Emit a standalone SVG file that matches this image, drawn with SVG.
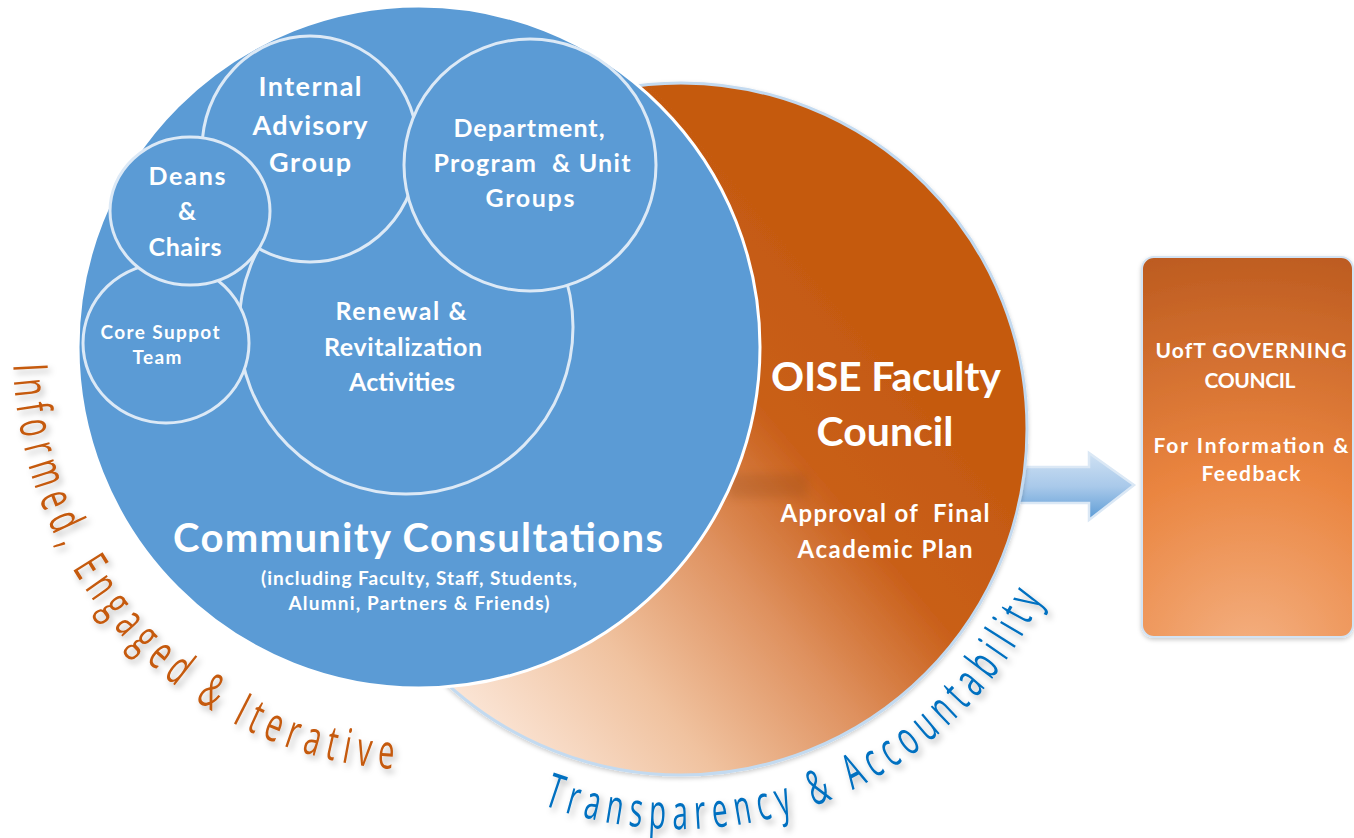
<svg xmlns="http://www.w3.org/2000/svg" width="1354" height="838" viewBox="0 0 1354 838">
<defs>
  <linearGradient id="gOrange" gradientUnits="userSpaceOnUse" x1="470" y1="740" x2="900" y2="380">
    <stop offset="0" stop-color="#fce9dc"/>
    <stop offset="0.3" stop-color="#f0c29f"/>
    <stop offset="0.55" stop-color="#df9260"/>
    <stop offset="0.78" stop-color="#c95f19"/>
    <stop offset="1" stop-color="#c55a11"/>
  </linearGradient>
  <linearGradient id="gArrow" x1="0" y1="0" x2="0" y2="1">
    <stop offset="0" stop-color="#cfe1f3"/>
    <stop offset="0.5" stop-color="#a9c9ea"/>
    <stop offset="1" stop-color="#5b9bd5"/>
  </linearGradient>
  <radialGradient id="gBox" gradientUnits="userSpaceOnUse" cx="1250" cy="660" r="430">
    <stop offset="0" stop-color="#f4b183"/>
    <stop offset="0.45" stop-color="#ea8540"/>
    <stop offset="1" stop-color="#b9581d"/>
  </radialGradient>
  <filter id="tshadow" filterUnits="userSpaceOnUse" x="0" y="0" width="1354" height="838">
    <feDropShadow dx="3" dy="4" stdDeviation="3" flood-color="#000" flood-opacity="0.28"/>
  </filter>
  <filter id="soft" x="-20%" y="-20%" width="140%" height="140%">
    <feDropShadow dx="0" dy="2" stdDeviation="2" flood-color="#000" flood-opacity="0.2"/>
  </filter>
  <filter id="blur6" x="-50%" y="-80%" width="200%" height="260%">
    <feGaussianBlur stdDeviation="5"/>
  </filter>
  <path id="arcInformed" d="M 13.2 364.7 A 407 420 0 0 0 405.8 769.7"/>
  <path id="arcTransp" d="M 543 805 A 400 400 0 0 0 1045 592"/>
</defs>
<style>
  .lbl { font-family: Lato, "Open Sans", "Liberation Sans", sans-serif; font-weight: bold; fill: #ffffff; text-anchor: middle; white-space: pre; }
  .inner { fill: #5b9bd5; stroke: #dce9f6; stroke-width: 3; }
  .curve { font-family: "Open Sans", "Liberation Sans", sans-serif; font-weight: 400; font-size: 48px; letter-spacing: 12px; filter: url(#tshadow); }
</style>
<rect width="1354" height="838" fill="#ffffff"/>

<g id="connectors">
  <polygon points="1010,467 1089,467 1089,453 1134,485 1089,520 1089,503 1010,503" fill="url(#gArrow)" stroke="#dbe8f5" stroke-width="2.5" stroke-linejoin="miter"/>
</g>

<g id="faculty-council">
  <circle cx="681" cy="429" r="346" fill="url(#gOrange)" stroke="#c3daf0" stroke-width="3" filter="url(#soft)"/>
  <rect x="728" y="474" width="80" height="24" fill="#8a4515" opacity="0.22" filter="url(#blur6)"/>
</g>

<g id="community-consultations">
  <circle cx="419" cy="347" r="341" fill="#5b9bd5" stroke="#ffffff" stroke-width="3"/>
</g>

<g id="renewal">
  <circle class="inner" cx="406" cy="327" r="167"/>
</g>
<g id="internal-advisory">
  <ellipse class="inner" cx="310" cy="149" rx="108" ry="113"/>
</g>
<g id="department-groups">
  <circle class="inner" cx="530" cy="165" r="126"/>
</g>
<g id="core-support">
  <ellipse class="inner" cx="166" cy="343" rx="83" ry="80"/>
</g>
<g id="deans-chairs">
  <ellipse class="inner" cx="190" cy="211" rx="80" ry="74"/>
</g>

<g id="labels">
  <text class="lbl" x="310" y="96" font-size="27" textLength="103">Internal</text>
  <text class="lbl" x="310" y="135" font-size="27" textLength="115">Advisory</text>
  <text class="lbl" x="310" y="172" font-size="27" textLength="82">Group</text>

  <text class="lbl" x="187" y="185" font-size="25" textLength="77">Deans</text>
  <text class="lbl" x="187" y="220" font-size="25">&amp;</text>
  <text class="lbl" x="185" y="256" font-size="25" textLength="73">Chairs</text>

  <text class="lbl" x="529" y="137" font-size="25" textLength="151">Department,</text>
  <text class="lbl" x="532" y="172" font-size="25" textLength="197">Program  &amp; Unit</text>
  <text class="lbl" x="530" y="207" font-size="25" textLength="89">Groups</text>

  <text class="lbl" x="160" y="339" font-size="19" textLength="119">Core Suppot</text>
  <text class="lbl" x="157" y="364" font-size="19" textLength="49">Team</text>

  <text class="lbl" x="401" y="320" font-size="25" textLength="131">Renewal &amp;</text>
  <text class="lbl" x="403" y="356" font-size="25" textLength="158">Revitalization</text>
  <text class="lbl" x="402" y="391" font-size="25" textLength="106">Activities</text>

  <text class="lbl" x="418" y="552" font-size="40" textLength="490">Community Consultations</text>
  <text class="lbl" x="419" y="585" font-size="19" textLength="316">(including Faculty, Staff, Students,</text>
  <text class="lbl" x="419" y="610" font-size="19" textLength="261">Alumni, Partners &amp; Friends)</text>

  <text class="lbl" x="886" y="391" font-size="41" textLength="230">OISE Faculty</text>
  <text class="lbl" x="885" y="446" font-size="41" textLength="137">Council</text>
  <text class="lbl" x="885" y="522" font-size="24" textLength="209">Approval of  Final</text>
  <text class="lbl" x="885" y="558" font-size="24" textLength="175">Academic Plan</text>
</g>

<g id="governing-council">
  <rect x="1142" y="257" width="211" height="380" rx="12" ry="12" fill="url(#gBox)" stroke="#d3e3f3" stroke-width="2" filter="url(#soft)"/>
  <text class="lbl" x="1251" y="358" font-size="21" textLength="191">UofT GOVERNING</text>
  <text class="lbl" x="1250" y="388" font-size="21" textLength="91">COUNCIL</text>
  <text class="lbl" x="1251" y="453" font-size="21" textLength="195">For Information &amp;</text>
  <text class="lbl" x="1251" y="481" font-size="21" textLength="99">Feedback</text>
</g>

<g id="label-informed">
  <text class="curve" fill="#c55a11"><textPath href="#arcInformed" textLength="615" lengthAdjust="spacingAndGlyphs">Informed, Engaged &amp; Iterative</textPath></text>
</g>
<g id="label-transparency">
  <text class="curve" fill="#0070c0"><textPath href="#arcTransp" textLength="600" lengthAdjust="spacingAndGlyphs">Transparency  &amp; Accountability</textPath></text>
</g>
</svg>
